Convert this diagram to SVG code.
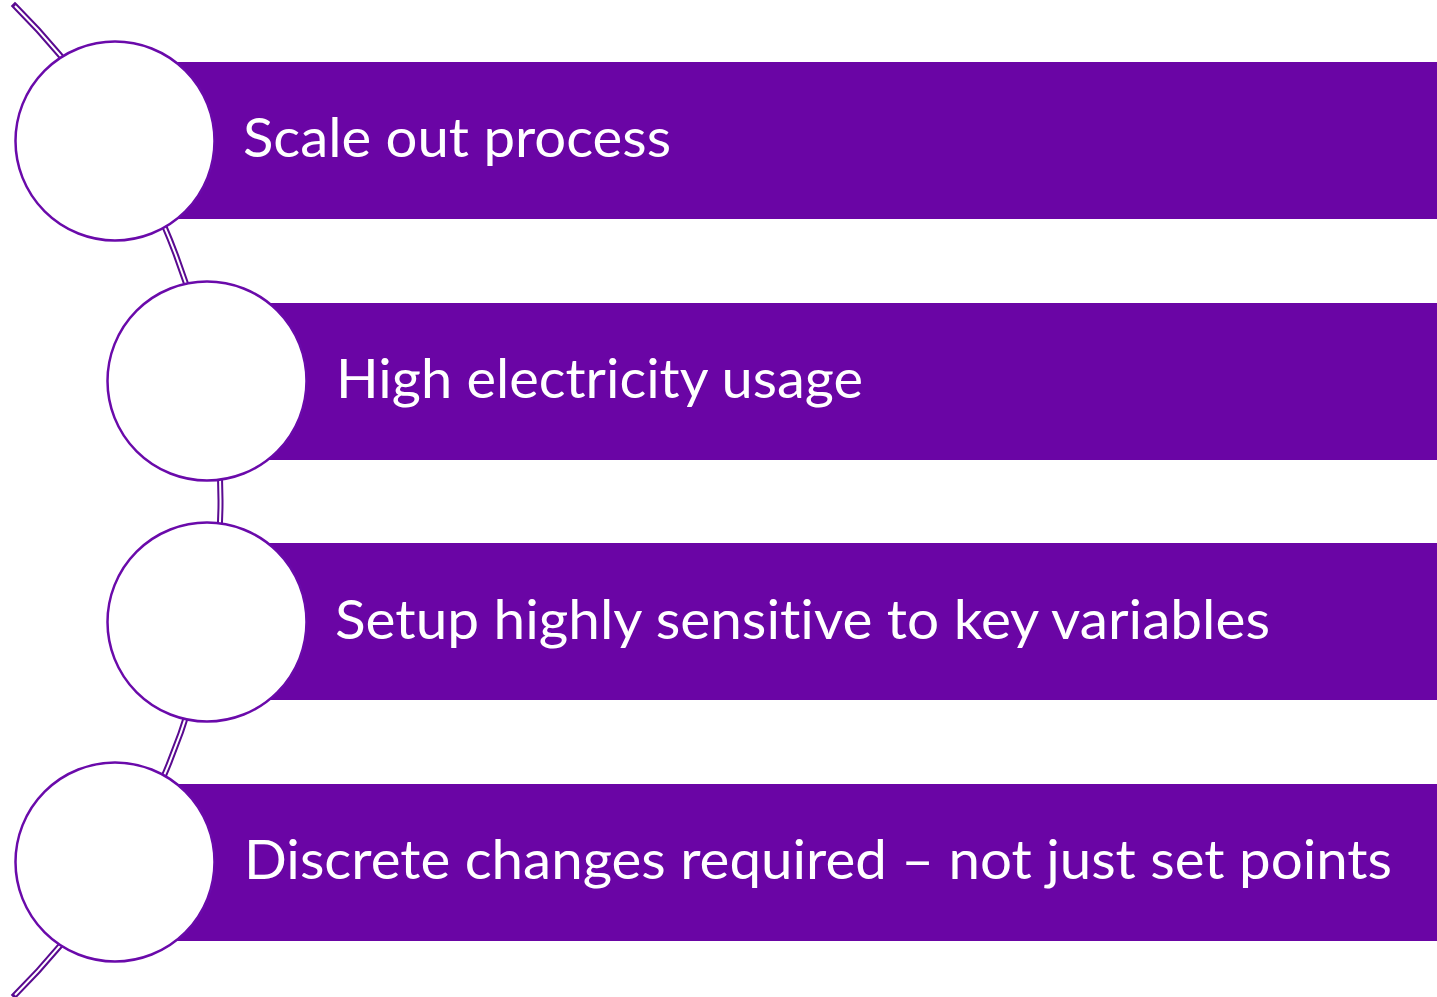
<svg xmlns="http://www.w3.org/2000/svg" width="1437" height="997" viewBox="0 0 1437 997">
  <style>
    .bar { fill: #6A05A5; }
    .disc { fill: #FFFFFF; stroke: #6A0AAA; stroke-width: 2.5; }
    .label { fill: #FFFFFF; font-family: "Lato", "Open Sans", "Liberation Sans", sans-serif; font-size: 55px; font-variant-ligatures: none; font-feature-settings: "liga" 0, "clig" 0; }
    .rail-outer { fill: none; stroke: #5A0A90; stroke-width: 6; stroke-linecap: square; }
    .rail-inner { fill: none; stroke: #FFFFFF; stroke-width: 2; }
  </style>
  <rect width="1437" height="997" fill="#FFFFFF"/>

  <!-- curved double rail linking the discs -->
  <g id="connectors">
    <path class="rail-outer" d="M 15 6 A 697.7 697.7 0 0 1 15 995"/>
    <path class="rail-inner" d="M 15 6 A 697.7 697.7 0 0 1 15 995"/>
  </g>

  <g id="step1">
    <rect class="bar" x="115" y="62" width="1322" height="157"/>
    <circle class="disc" cx="115" cy="141" r="99.5"/>
    <text class="label" x="243" y="157" textLength="428" lengthAdjust="spacingAndGlyphs">Scale out process</text>
  </g>

  <g id="step2">
    <rect class="bar" x="207" y="303" width="1230" height="157"/>
    <circle class="disc" cx="207" cy="381" r="99.5"/>
    <text class="label" x="336" y="398" textLength="527" lengthAdjust="spacingAndGlyphs">High electricity usage</text>
  </g>

  <g id="step3">
    <rect class="bar" x="207" y="543" width="1230" height="157"/>
    <circle class="disc" cx="207" cy="622" r="99.5"/>
    <text class="label" x="335" y="639" textLength="935" lengthAdjust="spacingAndGlyphs">Setup highly sensitive to key variables</text>
  </g>

  <g id="step4">
    <rect class="bar" x="115" y="784" width="1322" height="157"/>
    <circle class="disc" cx="115" cy="862" r="99.5"/>
    <text class="label" x="244" y="879" textLength="1148" lengthAdjust="spacingAndGlyphs">Discrete changes required – not just set points</text>
  </g>
</svg>
